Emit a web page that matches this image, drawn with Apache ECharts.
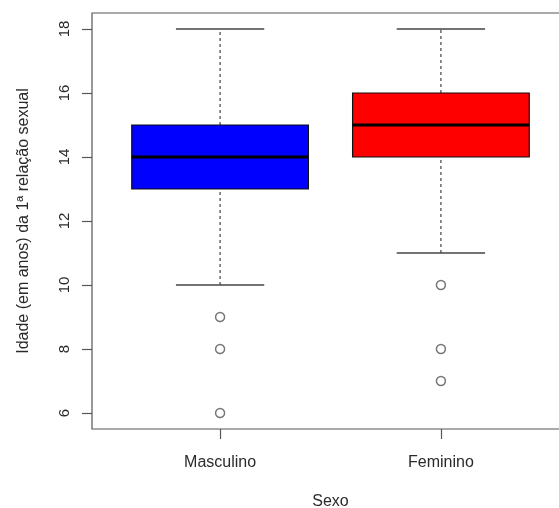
<!DOCTYPE html>
<html>
<head>
<meta charset="utf-8">
<script src="https://cdn.jsdelivr.net/npm/echarts@6/dist/echarts.min.js"></script>
<style>html,body{margin:0;padding:0;background:#fff}#c{width:559px;height:508px}</style>
</head>
<body>
<div id="c"></div>
<script>
const categories = ['Masculino', 'Feminino'];
const whiskerLow = [10, 11];
const q1 = [13, 14];
const median = [14, 15];
const q3 = [15, 16];
const whiskerHigh = [18, 18];
const outliers = [[9, 8, 6], [10, 8, 7]];
const boxColors = ['#0000ff', '#ff0000'];
const yTicks = [6, 8, 10, 12, 14, 16, 18];

const FONT = '"Liberation Sans", Arial, Helvetica, sans-serif';
const boxData = categories.map((c, i) => [i + 1, whiskerLow[i], q1[i], median[i], q3[i], whiskerHigh[i], i]);
const outlierData = [];
outliers.forEach((arr, i) => arr.forEach(v => outlierData.push([i + 1, v])));

const chart = echarts.init(document.getElementById('c'));
chart.setOption({
  animation: false,
  backgroundColor: '#fff',
  grid: {
    left: 92, right: -10, top: 13, bottom: 79,
    show: true, borderColor: '#555', borderWidth: 1.2,
    outerBoundsMode: 'none', containLabel: false
  },
  xAxis: {
    type: 'value', min: 0.42, max: 2.58,
    name: 'Sexo', nameLocation: 'middle', nameGap: 65,
    nameTextStyle: { fontFamily: FONT, fontSize: 16, color: '#2a2a2a' },
    axisLine: { show: false },
    splitLine: { show: false },
    axisTick: { show: true, length: 10, customValues: [1, 2], lineStyle: { color: '#555', width: 1.2 } },
    axisLabel: {
      customValues: [1, 2], margin: 26, fontFamily: FONT, fontSize: 16, color: '#2a2a2a',
      formatter: v => categories[Math.round(v) - 1] || ''
    }
  },
  yAxis: {
    type: 'value', min: 5.5, max: 18.5,
    name: 'Idade (em anos) da 1ª relação sexual', nameLocation: 'middle', nameGap: 60,
    nameTextStyle: { fontFamily: FONT, fontSize: 16, color: '#2a2a2a' },
    axisLine: { show: false },
    splitLine: { show: false },
    axisTick: { show: true, length: 10, customValues: yTicks, lineStyle: { color: '#555', width: 1.2 } },
    axisLabel: {
      customValues: yTicks, rotate: 90, margin: 20, fontFamily: FONT, fontSize: 15, color: '#2a2a2a'
    }
  },
  series: [
    {
      type: 'custom',
      data: boxData,
      encode: { x: 0, y: [1, 2, 3, 4, 5] },
      renderItem: function (params, api) {
        const x = api.value(0);
        const idx = api.value(6);
        const pLow = api.coord([x, api.value(1)]);
        const pQ1 = api.coord([x, api.value(2)]);
        const pMed = api.coord([x, api.value(3)]);
        const pQ3 = api.coord([x, api.value(4)]);
        const pHigh = api.coord([x, api.value(5)]);
        const hw = api.size([0.4, 0])[0];
        const cw = api.size([0.2, 0])[0];
        const dashStyle = { stroke: '#444', lineWidth: 1.2, lineDash: [3, 3] };
        const capStyle = { stroke: '#444', lineWidth: 1.5 };
        return {
          type: 'group',
          children: [
            { type: 'line', shape: { x1: pLow[0], y1: pLow[1], x2: pQ1[0], y2: pQ1[1] }, style: dashStyle },
            { type: 'line', shape: { x1: pQ3[0], y1: pQ3[1], x2: pHigh[0], y2: pHigh[1] }, style: dashStyle },
            { type: 'line', shape: { x1: pLow[0] - cw, y1: pLow[1], x2: pLow[0] + cw, y2: pLow[1] }, style: capStyle },
            { type: 'line', shape: { x1: pHigh[0] - cw, y1: pHigh[1], x2: pHigh[0] + cw, y2: pHigh[1] }, style: capStyle },
            { type: 'rect', shape: { x: pQ3[0] - hw, y: pQ3[1], width: 2 * hw, height: pQ1[1] - pQ3[1] },
              style: { fill: boxColors[idx], stroke: '#111', lineWidth: 1.2 } },
            { type: 'line', shape: { x1: pMed[0] - hw, y1: pMed[1], x2: pMed[0] + hw, y2: pMed[1] },
              style: { stroke: '#000', lineWidth: 3 } }
          ]
        };
      }
    },
    {
      type: 'scatter',
      data: outlierData,
      symbol: 'circle',
      symbolSize: 9,
      itemStyle: { color: '#fff', borderColor: '#555', borderWidth: 1.5 }
    }
  ]
});
</script>
</body>
</html>
